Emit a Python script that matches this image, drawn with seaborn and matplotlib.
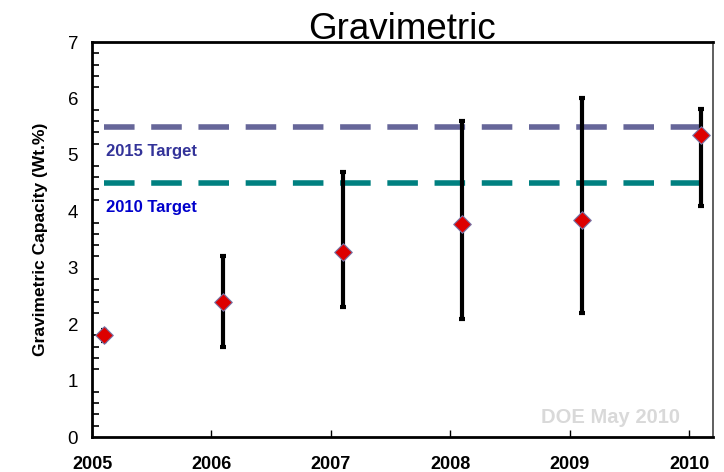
import matplotlib
matplotlib.use("Agg")
import matplotlib.pyplot as plt
import seaborn as sns
import numpy as np
import pandas as pd
from matplotlib.ticker import MultipleLocator

years = [2005, 2006, 2007, 2008, 2009, 2010]
capacity = [1.8, 2.4, 3.27, 3.77, 3.84, 5.36]
err_low = [1.7, 1.6, 2.3, 2.1, 2.2, 4.1]
err_high = [1.9, 3.2, 4.7, 5.6, 6.0, 5.82]
target_names = ["2015 Target", "2010 Target"]
target_values = [5.5, 4.5]
target_colors = ["#666699", "#008080"]
target_text_colors = ["#333399", "#0000CC"]
title = "Gravimetric"
ylabel = "Gravimetric Capacity (Wt.%)"
watermark = "DOE May 2010"

sns.set_style("white")
plt.rcParams['font.family'] = ['Liberation Sans', 'DejaVu Sans']
plt.rcParams.update({"text.color": "black", "axes.labelcolor": "black",
                     "xtick.color": "black", "ytick.color": "black"})

offset = 0.1
df = pd.DataFrame({"x": np.array(years) + offset, "y": capacity,
                   "lo": err_low, "hi": err_high})

fig = plt.figure(figsize=(7.24, 4.72), dpi=100)
ax = fig.add_axes([92/724, 1 - 437/472, (713-92)/724, (437-42)/472])

# target lines
for val, col in zip(target_values, target_colors):
    ax.hlines(val, years[0] + offset, years[-1] + offset, colors=col,
              linestyles=(0, (5.5, 3)), linewidth=4, zorder=2)

# error bars
yerr = np.vstack([df["y"] - df["lo"], df["hi"] - df["y"]])
ax.errorbar(df["x"], df["y"], yerr=yerr, fmt="none", ecolor="black",
            elinewidth=3, capsize=2.5, capthick=3, zorder=3)

sns.scatterplot(data=df, x="x", y="y", marker="D", s=80, color="#DD0000",
                edgecolor="#7777AA", linewidth=0.8, ax=ax, zorder=4)

for name, val, tcol in zip(target_names, target_values, target_text_colors):
    ax.text(years[0] + 0.12, val - 0.44, name, color=tcol, fontsize=12,
            fontweight="bold", va="center", ha="left")

ax.text(years[-1] - 0.08, 0.34, watermark, color="#D9D9D9", fontsize=14.5,
        fontweight="bold", ha="right", va="center")

ax.set_xlim(2005, 2010.2)
ax.set_ylim(0, 7)
ax.set_xticks(years)
ax.set_xticklabels([str(y) for y in years], fontweight="bold", fontsize=13)
ax.yaxis.set_major_locator(MultipleLocator(1))
ax.yaxis.set_minor_locator(MultipleLocator(0.2))
ax.tick_params(axis="y", which="major", direction="in", length=5, width=1.2,
               labelsize=13.5, pad=10)
ax.tick_params(axis="y", which="minor", direction="in", length=5, width=1.2, left=True)
ax.tick_params(axis="x", which="major", direction="in", length=5, width=1,
               pad=14, bottom=True)
ax.set_xlabel("")
ax.set_ylabel(ylabel, fontsize=12.5, fontweight="bold", labelpad=14)
ax.set_title(title, fontsize=26.5, pad=2)

for side in ["left", "bottom", "top"]:
    ax.spines[side].set_color("black")
    ax.spines[side].set_linewidth(2)
ax.spines["right"].set_color("#444444")
ax.spines["right"].set_linewidth(1.2)

fig.savefig("out.png", dpi=100)
